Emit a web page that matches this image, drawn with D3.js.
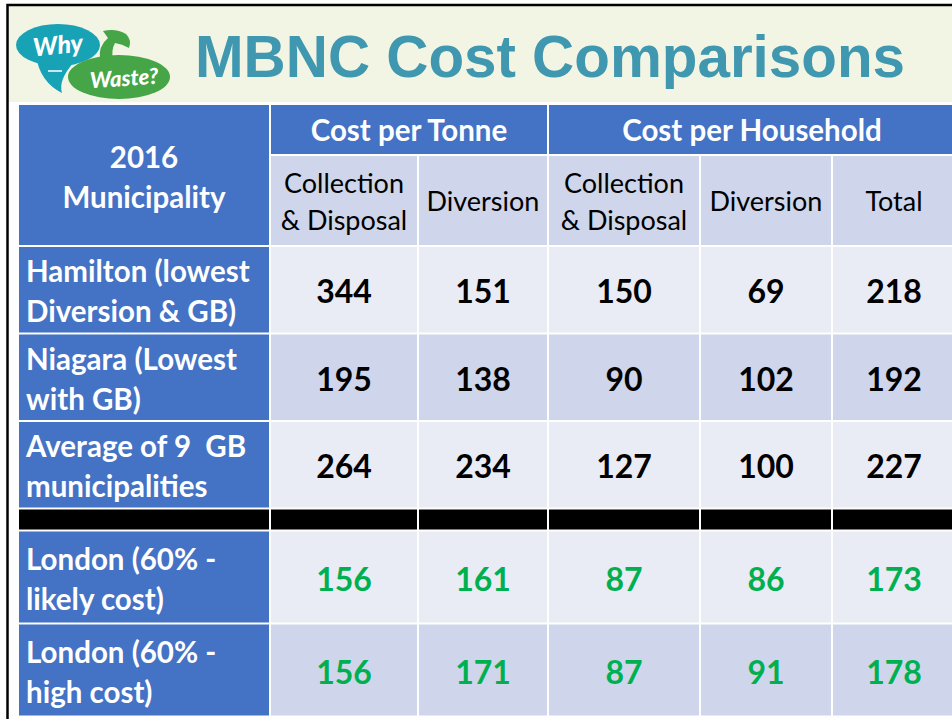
<!DOCTYPE html>
<html>
<head>
<meta charset="utf-8">
<script src="https://cdn.jsdelivr.net/npm/d3@7"></script>
<style>
  html, body { margin: 0; padding: 0; background: #fff; }
  svg { display: block; }
  text { white-space: pre; }
</style>
</head>
<body>
<div id="chart"></div>
<script>
// --- data ---
const title = 'MBNC Cost Comparisons'
const cornerHead = ['2016', 'Municipality']
const groupHeads = ['Cost per Tonne', 'Cost per Household']
const groupSpans = [2, 3]
const subHeads = [['Collection', '& Disposal'], ['Diversion'], ['Collection', '& Disposal'], ['Diversion'], ['Total']]
const municipalities = [
  ['Hamilton (lowest', 'Diversion & GB)'],
  ['Niagara (Lowest', 'with GB)'],
  ['Average of 9  GB', 'municipalities'],
  ['London (60% -', 'likely cost)'],
  ['London (60% -', 'high cost)']
]
const tonneCollection = [344, 195, 264, 156, 156]
const tonneDiversion = [151, 138, 234, 161, 171]
const hhCollection = [150, 90, 127, 87, 87]
const hhDiversion = [69, 102, 100, 86, 91]
const hhTotal = [218, 192, 227, 173, 178]
const isLondon = [false, false, false, true, true]

// --- layout ---
const width = 952
const height = 719
const colWidths = [252, 148, 130, 152, 132, 124]
const colEdges = [18].concat(Array.from(d3.cumsum(colWidths), d => 18 + d))
const colX = i => colEdges[i]
const colW = i => colWidths[i]

const blue = '#4472c4'
const subFill = '#cfd5ea'
const lightFill = '#e9ebf5'
const green = '#00b050'
const font = 'Lato, "Open Sans", sans-serif'

const svg = d3.select('#chart').append('svg')
  .attr('width', width)
  .attr('height', height)

// background bands
svg.append('rect').attr('x', 0).attr('y', 0).attr('width', width).attr('height', height).attr('fill', '#fdfefd')
svg.append('rect').attr('x', 8).attr('y', 5).attr('width', width).attr('height', 97).attr('fill', '#f2f5e3')
svg.append('rect').attr('x', 7.5).attr('y', 5).attr('width', width + 10).attr('height', height + 10)
  .attr('fill', 'none').attr('stroke', '#000').attr('stroke-width', 2.5)

// --- logo ---
const logo = svg.append('g').attr('class', 'logo')
logo.append('path').attr('d', 'M36,56 Q40,82 62,93 Q58,80 74,62 Z').attr('fill', '#17a2b6')
logo.append('ellipse').attr('cx', 58).attr('cy', 45).attr('rx', 42).attr('ry', 21).attr('fill', '#17a2b6')
logo.append('path').attr('d', 'M100,60 Q98,46 108,38 L103,31 Q116,28 126,34 Q132,40 129,48 Q122,44 115,43 Q111,50 113,60 Z')
  .attr('fill', '#45a547')
logo.append('ellipse').attr('cx', 119).attr('cy', 77).attr('rx', 51).attr('ry', 22).attr('fill', '#45a547')
logo.append('line').attr('x1', 48).attr('y1', 71).attr('x2', 62).attr('y2', 71)
  .attr('stroke', '#fff').attr('stroke-width', 1.5)
logo.append('text').attr('x', 58).attr('y', 54).attr('text-anchor', 'middle')
  .attr('font-family', font).attr('font-weight', 900).attr('font-style', 'italic').attr('font-size', 25)
  .attr('fill', '#fff').attr('transform', 'rotate(-6,58,46)').text('Why')
logo.append('text').attr('x', 124).attr('y', 86).attr('text-anchor', 'middle')
  .attr('font-family', font).attr('font-weight', 900).attr('font-style', 'italic').attr('font-size', 22)
  .attr('fill', '#fff').attr('transform', 'rotate(-4,124,78)').text('Waste?')

// --- title ---
const titleText = svg.append('text')
  .attr('x', 195).attr('y', 77)
  .attr('font-family', '"Liberation Sans", Arial, sans-serif')
  .attr('font-weight', 'bold').attr('font-size', 60)
  .attr('fill', '#3f97b0')
  .text(title)
titleText.attr('textLength', 710).attr('lengthAdjust', 'spacingAndGlyphs')

// --- table ---
const table = svg.append('g').attr('class', 'table')
const head1 = { y: 104, h: 51 }
const head2 = { y: 155, h: 91 }

function cell(x, y, w, h, fill) {
  table.append('rect')
    .attr('x', x + 1).attr('y', y + 1)
    .attr('width', w - 2).attr('height', h - 2)
    .attr('fill', fill)
}

function lines(x, y, arr, opts) {
  const gap = opts.gap
  const t = table.append('text')
    .attr('x', x)
    .attr('text-anchor', opts.anchor || 'middle')
    .attr('font-family', font)
    .attr('font-weight', opts.weight || 'normal')
    .attr('font-size', opts.size)
    .attr('fill', opts.fill)
  arr.forEach((s, i) => {
    t.append('tspan')
      .attr('x', x)
      .attr('y', y + (i - (arr.length - 1) / 2) * gap)
      .attr('dominant-baseline', 'central')
      .text(s)
  })
}

// corner
cell(colX(0), head1.y, colW(0), head1.h + head2.h, blue)
lines(colX(0) + colW(0) / 2, head1.y + (head1.h + head2.h) / 2 + 1, cornerHead,
  { gap: 40, size: 29.5, weight: 'bold', fill: '#fff' })

// group heads
let gc = 1
groupHeads.forEach((g, i) => {
  const x0 = colX(gc)
  const x1 = colX(gc + groupSpans[i])
  cell(x0, head1.y, x1 - x0, head1.h, blue)
  lines((x0 + x1) / 2, head1.y + head1.h / 2, [g], { gap: 0, size: 29.5, weight: 'bold', fill: '#fff' })
  gc += groupSpans[i]
})

// sub heads
subHeads.forEach((s, i) => {
  cell(colX(i + 1), head2.y, colW(i + 1), head2.h, subFill)
  lines(colX(i + 1) + colW(i + 1) / 2, head2.y + head2.h / 2, s, { gap: 37, size: 27, fill: '#000' })
})

// body rows
const rows = municipalities.map((m, i) => ({
  label: m,
  values: [tonneCollection[i], tonneDiversion[i], hhCollection[i], hhDiversion[i], hhTotal[i]],
  london: isLondon[i],
  sep: false
}))
rows.splice(3, 0, { sep: true })
const rowHeights = [87.5, 87.5, 87.5, 22, 93, 93]
const rowFills = [lightFill, subFill, lightFill, '#000', lightFill, subFill]
const rowTops = [246].concat(Array.from(d3.cumsum(rowHeights), d => 246 + d))

rows.forEach((r, ri) => {
  const y = rowTops[ri]
  const h = rowHeights[ri]
  if (r.sep) {
    colWidths.forEach((w, ci) => cell(colX(ci), y, w, h, '#000'))
    return
  }
  cell(colX(0), y, colW(0), h, blue)
  lines(colX(0) + 8, y + h / 2 + 1, r.label, { gap: 40, size: 29.5, weight: 'bold', fill: '#fff', anchor: 'start' })
  r.values.forEach((v, vi) => {
    cell(colX(vi + 1), y, colW(vi + 1), h, rowFills[ri])
    lines(colX(vi + 1) + colW(vi + 1) / 2, y + h / 2 + 1, [String(v)],
      { gap: 0, size: 32, weight: 'bold', fill: r.london ? green : '#000' })
  })
})
</script>
</body>
</html>
